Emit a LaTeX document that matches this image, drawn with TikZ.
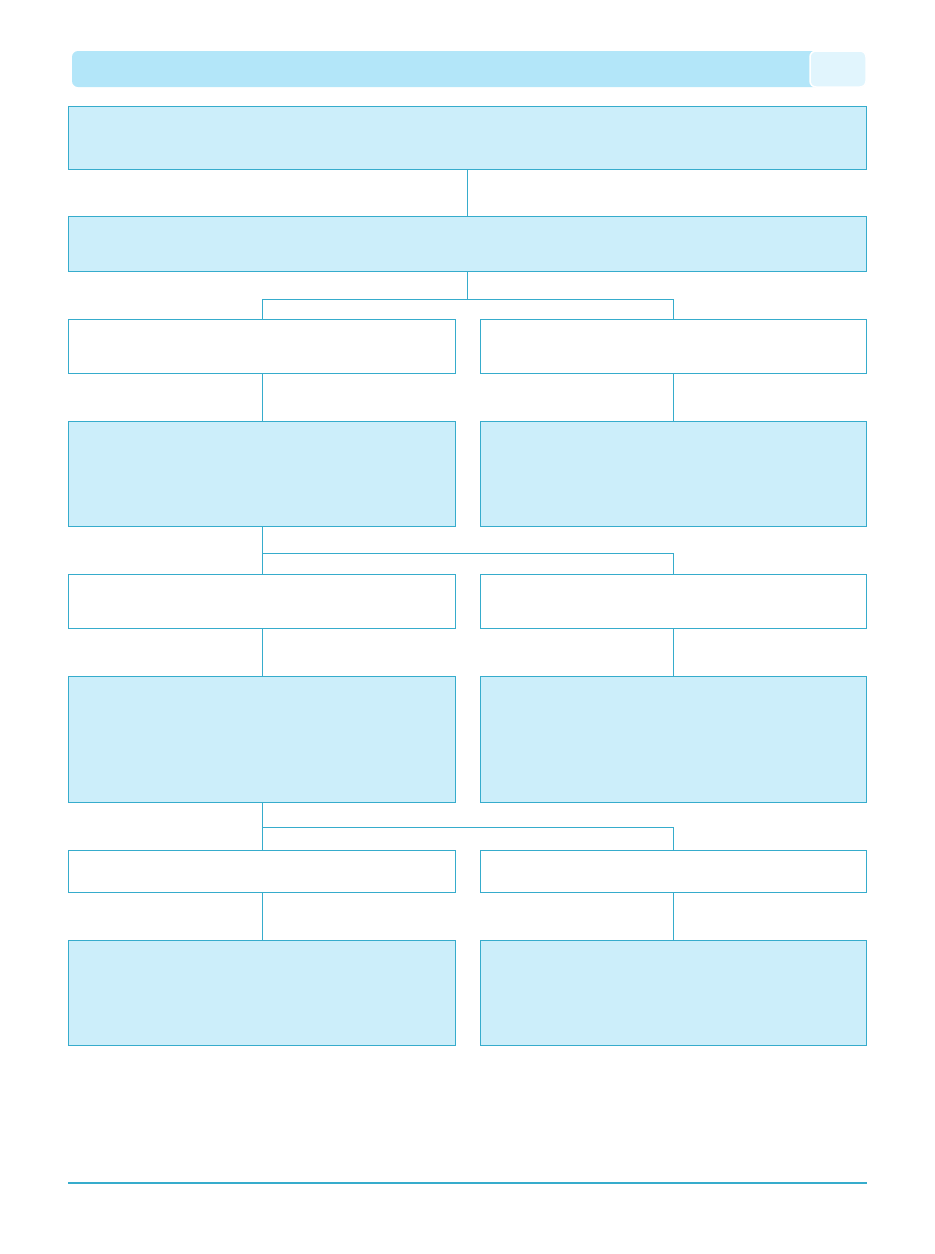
\documentclass[tikz,border=0pt]{standalone}
\usetikzlibrary{positioning,calc}
\definecolor{lubox}{HTML}{CCEEFA}
\definecolor{luline}{HTML}{36ACCC}
\definecolor{luhead}{HTML}{B3E6F9}
\definecolor{luheadlight}{HTML}{E1F5FD}
\tikzset{
  plainbox/.style={draw=luline,fill=white,line width=1pt,anchor=north west,inner sep=0pt},
  fillbox/.style={plainbox,fill=lubox},
  link/.style={draw=luline,line width=1pt}
}
\begin{document}
\begin{tikzpicture}[x=1pt,y=-1pt]
  \useasboundingbox (0,0) rectangle (935,1254);
  % header bar
  \fill[luhead,rounded corners=6pt] (72,51) rectangle (866,87);
  \filldraw[fill=luheadlight,draw=white,line width=1.5pt,rounded corners=6pt] (810,51) rectangle (866,87);
  % full width boxes
  \node[fillbox,minimum width=798pt,minimum height=63pt] (top) at (68,106) {};
  \node[fillbox,minimum width=798pt,minimum height=55pt] (second) at (68,216) {};
  % left column
  \node[plainbox,minimum width=387pt,minimum height=54pt] (l3) at (68,319) {};
  \node[fillbox,minimum width=387pt,minimum height=105pt] (l4) at (68,421) {};
  \node[plainbox,minimum width=387pt,minimum height=54pt] (l5) at (68,574) {};
  \node[fillbox,minimum width=387pt,minimum height=126pt] (l6) at (68,676) {};
  \node[plainbox,minimum width=387pt,minimum height=42pt] (l7) at (68,850) {};
  \node[fillbox,minimum width=387pt,minimum height=105pt] (l8) at (68,940) {};
  % right column
  \node[plainbox,minimum width=386pt,minimum height=54pt] (r3) at (480,319) {};
  \node[fillbox,minimum width=386pt,minimum height=105pt] (r4) at (480,421) {};
  \node[plainbox,minimum width=386pt,minimum height=54pt] (r5) at (480,574) {};
  \node[fillbox,minimum width=386pt,minimum height=126pt] (r6) at (480,676) {};
  \node[plainbox,minimum width=386pt,minimum height=42pt] (r7) at (480,850) {};
  \node[fillbox,minimum width=386pt,minimum height=105pt] (r8) at (480,940) {};
  % connectors
  \draw[link] (top.south) -- (second.north);
  \draw[link] (second.south) -- ++(0,27.5) coordinate (j1);
  \draw[link] (j1) -| (l3.north);
  \draw[link] (j1) -| (r3.north);
  \draw[link] (l3.south) -- (l4.north);
  \draw[link] (r3.south) -- (r4.north);
  \draw[link] (l4.south) -- coordinate[pos=0.56] (j2) (l5.north);
  \draw[link] (j2) -| (r5.north);
  \draw[link] (l5.south) -- (l6.north);
  \draw[link] (r5.south) -- (r6.north);
  \draw[link] (l6.south) -- coordinate[pos=0.52] (j3) (l7.north);
  \draw[link] (j3) -| (r7.north);
  \draw[link] (l7.south) -- (l8.north);
  \draw[link] (r7.south) -- (r8.north);
  % footer rule
  \draw[luline,line width=1.2pt] (68,1183) -- (867,1183);
\end{tikzpicture}
\end{document}
